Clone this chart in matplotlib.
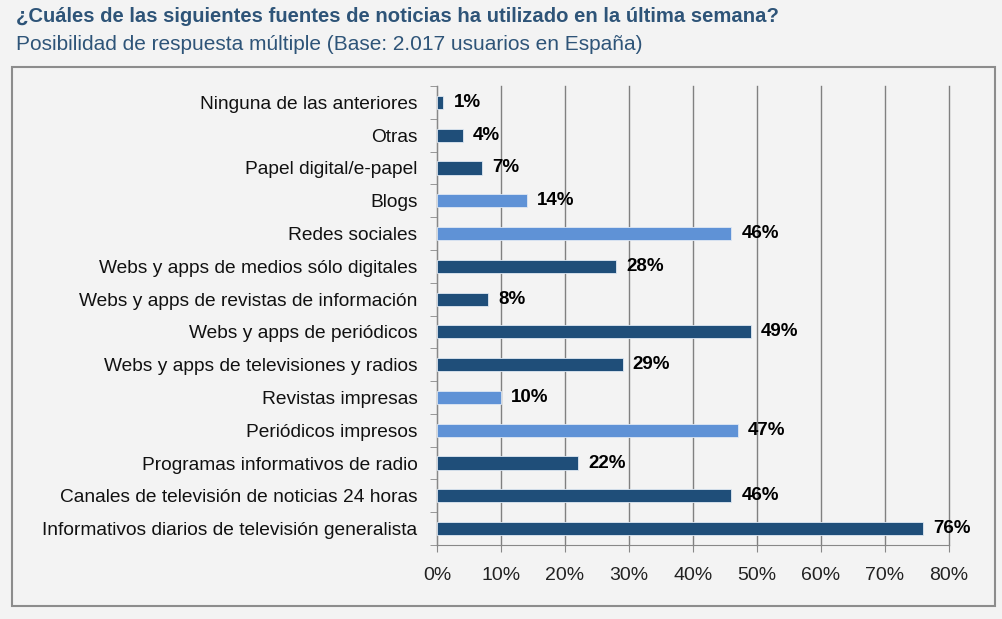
import matplotlib.pyplot as plt
from matplotlib.patches import Rectangle

categorias = [
    "Ninguna de las anteriores",
    "Otras",
    "Papel digital/e-papel",
    "Blogs",
    "Redes sociales",
    "Webs y apps de medios sólo digitales",
    "Webs y apps de revistas de información",
    "Webs y apps de periódicos",
    "Webs y apps de televisiones y radios",
    "Revistas impresas",
    "Periódicos impresos",
    "Programas informativos de radio",
    "Canales de televisión de noticias 24 horas",
    "Informativos diarios de televisión generalista",
]
valores = [1, 4, 7, 14, 46, 28, 8, 49, 29, 10, 47, 22, 46, 76]
claros = ["Blogs", "Redes sociales", "Revistas impresas", "Periódicos impresos"]
ticks_x = [0, 10, 20, 30, 40, 50, 60, 70, 80]

oscuro = "#1f4e79"
claro = "#5f92d6"
fondo = "#f3f3f3"

plt.rcParams['font.family'] = ['Liberation Sans', 'DejaVu Sans']

fig = plt.figure(figsize=(10.02, 6.19), dpi=100, facecolor=fondo)
ax = fig.add_axes([437/1002, 1 - 545/619, (949-437)/1002, (545-86)/619])
ax.set_facecolor(fondo)

# marco exterior
fig.patches.append(Rectangle((12/1002, 1 - 606/619), 983/1002, 539/619,
                             transform=fig.transFigure, fill=False,
                             edgecolor="#8c8c8c", linewidth=1.5))

n = len(categorias)
ys = [n - 1 - i for i in range(n)]
colores = [claro if c in claros else oscuro for c in categorias]
ax.barh(ys, valores, height=0.4, color=colores, edgecolor="#dfe8f3", linewidth=0.6, zorder=3)

for y, v in zip(ys, valores):
    ax.text(v + 1.6, y, f"{v}%", va="center", ha="left", fontsize=13.5,
            fontweight="bold", color="black", zorder=4)

ax.set_xlim(0, 80)
ax.set_ylim(-0.5, n - 0.5)
ax.set_xticks(ticks_x)
ax.set_xticklabels([f"{t}%" for t in ticks_x], fontsize=14, color="#222222")
ax.set_yticks(ys)
ax.set_yticklabels(categorias, fontsize=13.8, color="#111111")
ax.set_yticks([k - 0.5 for k in range(n + 1)], minor=True)
ax.tick_params(axis="y", which="major", length=0, pad=14)
ax.tick_params(axis="y", which="minor", length=5, color="#888888")
ax.tick_params(axis="x", length=5, color="#888888", pad=11)

ax.grid(axis="x", color="#808080", linewidth=1, zorder=0)
for gl in ax.get_xgridlines():
    gl.set_clip_on(False)
for s in ["top", "right"]:
    ax.spines[s].set_visible(False)
for s in ["left", "bottom"]:
    ax.spines[s].set_color("#888888")

fig.text(16/1002, 1 - 17/619, "¿Cuáles de las siguientes fuentes de noticias ha utilizado en la última semana?",
         fontsize=14.6, fontweight="bold", color="#2e5478", va="center", ha="left")
fig.text(16/1002, 1 - 44/619, "Posibilidad de respuesta múltiple (Base: 2.017 usuarios en España)",
         fontsize=15, color="#2e5478", va="center", ha="left")

fig.savefig("out.png", dpi=100, facecolor=fondo)
